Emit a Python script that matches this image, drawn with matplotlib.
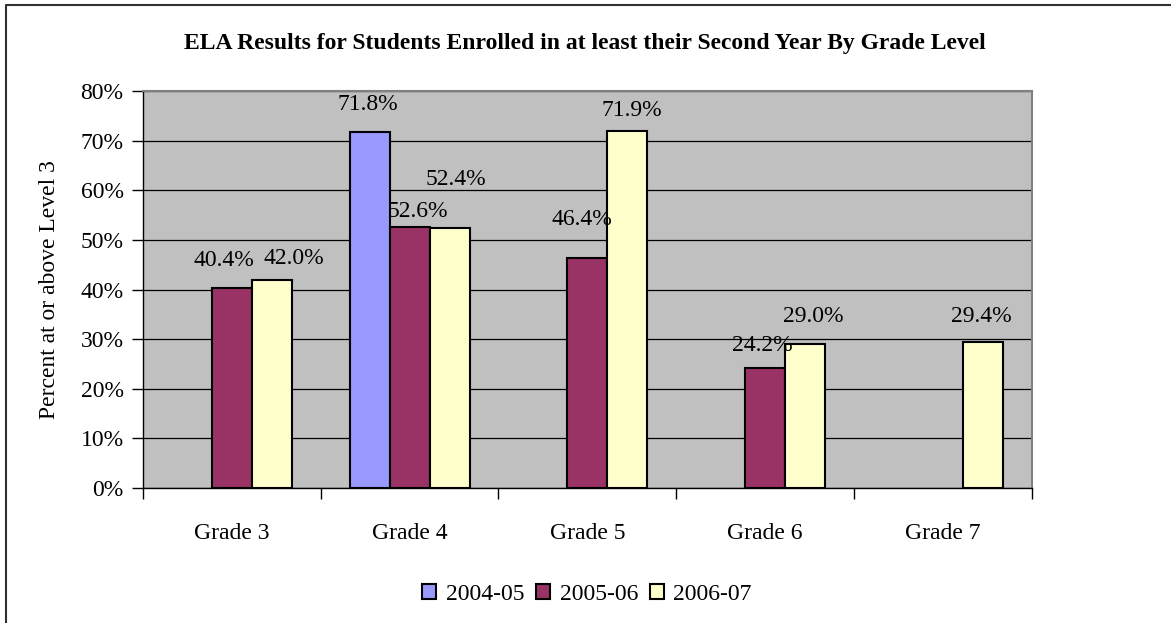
import numpy as np
import matplotlib
matplotlib.use("Agg")
import matplotlib.pyplot as plt
from matplotlib.patches import Rectangle
from matplotlib.lines import Line2D
from matplotlib.ticker import FuncFormatter

plt.rcParams['font.family'] = ['Liberation Serif', 'DejaVu Serif']

grades = ['Grade 3', 'Grade 4', 'Grade 5', 'Grade 6', 'Grade 7']
years = ['2004-05', '2005-06', '2006-07']
vals_0405 = [None, 71.8, None, None, None]
vals_0506 = [40.4, 52.6, 46.4, 24.2, None]
vals_0607 = [42.0, 52.4, 71.9, 29.0, 29.4]

colors = ['#9999FF', '#993366', '#FFFFCC']
# label nudges in pixels (dx, dy of label centre relative to bar top centre)
nudges = [
    [None, (-2, 27), None, None, None],
    [(-8, 27), (8, 15), (-5, 38), (-3, 22), None],
    [(22, 21), (6, 48), (4, 21), (8, 28), (-2, 26)],
]

W, H = 1171, 623
fig = plt.figure(figsize=(W / 100, H / 100), dpi=100)
ax = fig.add_axes([143 / W, 1 - 488 / H, (1031.7 - 143) / W, (488 - 91) / H])
ax.set_facecolor('#C0C0C0')

x = np.arange(len(grades))
bw = 0.225
series = [vals_0405, vals_0506, vals_0607]
for i, (vals, col) in enumerate(zip(series, colors)):
    for j, v in enumerate(vals):
        if v is None:
            continue
        xp = x[j] + (i - 1) * bw
        ax.bar(xp, v, width=bw, color=col, edgecolor='black', linewidth=1.5, zorder=3)
        dx, dy = nudges[i][j]
        ax.annotate('%.1f%%' % v, (xp, v), xytext=(dx, dy), textcoords='offset pixels',
                    ha='center', va='center', fontsize=17, zorder=4)

ax.set_xlim(-0.5, len(grades) - 0.5)
ax.set_ylim(0, 80)
ax.set_yticks(np.arange(0, 81, 10))
ax.yaxis.set_major_formatter(FuncFormatter(lambda v, p: '%d%%' % v))
ax.grid(axis='y', color='black', linewidth=0.9, zorder=1)
ax.set_axisbelow(True)

ax.set_xticks(x)
ax.set_xticklabels(grades)
ax.set_xticks(np.arange(-0.5, len(grades), 1), minor=True)
ax.tick_params(axis='x', which='major', length=0, pad=25, labelsize=17)
ax.tick_params(axis='x', which='minor', length=8, width=1, direction='out')
ax.tick_params(axis='y', length=8, width=1, direction='out', labelsize=17, pad=6)

for s in ['top', 'right']:
    ax.spines[s].set_color('#808080')
    ax.spines[s].set_linewidth(1.5)
for s in ['left', 'bottom']:
    ax.spines[s].set_color('black')
    ax.spines[s].set_linewidth(1)

ax.set_ylabel('Percent at or above Level 3', fontsize=17, labelpad=15)

fig.text(0.5 * (144 + 1025) / W, 1 - 44 / H,
         'ELA Results for Students Enrolled in at least their Second Year By Grade Level',
         ha='center', va='center', fontsize=17, fontweight='bold')

handles = [Rectangle((0, 0), 1, 1, facecolor=c, edgecolor='black', linewidth=1.5) for c in colors]
fig.legend(handles, years, loc='center', bbox_to_anchor=(587 / W, 1 - 594 / H), ncol=3,
           frameon=False, fontsize=17, handlelength=0.6, handleheight=0.6,
           handletextpad=0.4, columnspacing=0.5)

# chart frame: only the left and top edges show
fig.lines.append(Line2D([6 / W, 6 / W, 1.0], [0.0, 1 - 5 / H, 1 - 5 / H],
                        transform=fig.transFigure, color='#303030', linewidth=1.5))

fig.savefig('out.png', dpi=100)
